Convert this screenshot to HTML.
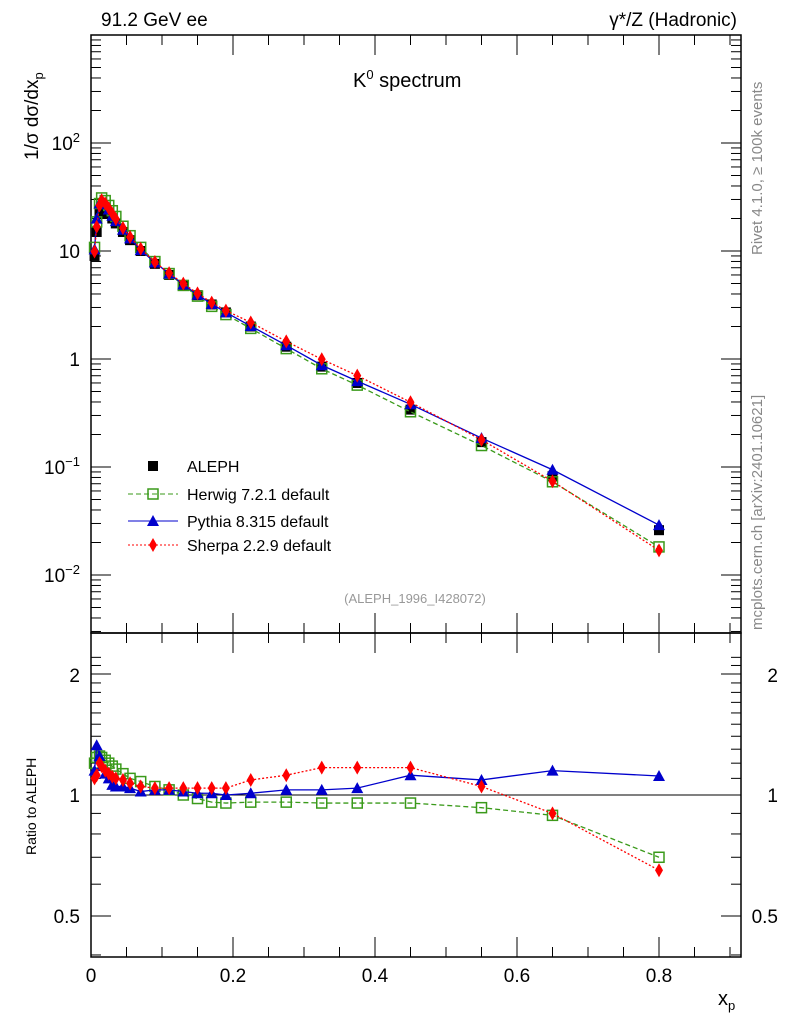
<!DOCTYPE html>
<html><head><meta charset="utf-8"><style>body{margin:0;background:#fff}svg{display:block}text{font-family:"Liberation Sans",sans-serif}</style></head>
<body>
<svg id="s" width="786" height="1024" viewBox="0 0 786 1024">
<rect width="786" height="1024" fill="#fff"/>
<text x="101" y="26" font-size="19">91.2 GeV ee</text>
<text x="737" y="26" font-size="19" text-anchor="end">γ*/Z (Hadronic)</text>
<text x="353" y="87" font-size="20">K<tspan dy="-8" font-size="13">0</tspan><tspan dy="8"> spectrum</tspan></text>
<text x="415" y="603" font-size="13" fill="#999" text-anchor="middle">(ALEPH_1996_I428072)</text>
<text transform="translate(762,255) rotate(-90)" font-size="15" fill="#888">Rivet 4.1.0, ≥ 100k events</text>
<text transform="translate(762,630) rotate(-90)" font-size="15" fill="#888">mcplots.cern.ch [arXiv:2401.10621]</text>
<text transform="translate(38,160) rotate(-90)" font-size="19">1/σ  dσ/dx<tspan dy="5" font-size="13">p</tspan></text>
<text transform="translate(36,855) rotate(-90)" font-size="14">Ratio to ALEPH</text>
<text x="718" y="1005" font-size="20">x<tspan dy="5" font-size="13">p</tspan></text>
<g font-size="19" text-anchor="end">
<text x="80" y="150">10<tspan dy="-8" font-size="13">2</tspan></text>
<text x="80" y="258">10</text>
<text x="80" y="366">1</text>
<text x="80" y="474">10<tspan dy="-8" font-size="13">−1</tspan></text>
<text x="80" y="582">10<tspan dy="-8" font-size="13">−2</tspan></text>
<text x="80" y="682">2</text><text x="80" y="802">1</text><text x="80" y="923">0.5</text>
<text x="778" y="682">2</text><text x="778" y="802">1</text><text x="778" y="923">0.5</text>
</g>
<g font-size="19" text-anchor="middle">
<text x="91" y="982">0</text><text x="233" y="982">0.2</text><text x="375" y="982">0.4</text><text x="517" y="982">0.6</text><text x="659" y="982">0.8</text>
</g>
<g font-size="16">
<text x="187" y="472">ALEPH</text>
<text x="187" y="500">Herwig 7.2.1 default</text>
<text x="187" y="527">Pythia 8.315 default</text>
<text x="187" y="551">Sherpa 2.2.9 default</text>
</g>
<g id="g"></g>
</svg>
<script>
const g=document.getElementById('g');let h='';
const X=x=>91+710*x, Y=v=>359-108*Math.log10(v), R=r=>795-402*Math.log10(r);
h+='<rect x="91" y="35" width="650" height="598" fill="none" stroke="#000" stroke-width="1.5"/>';
h+='<rect x="91" y="633" width="650" height="324" fill="none" stroke="#000" stroke-width="1.5"/>';
h+='<line x1="91" y1="795" x2="741" y2="795" stroke="#000"/>';
for(let d=-3;d<=2;d++)for(let m=1;m<10;m++){const y=Y(m*Math.pow(10,d));if(y<35||y>633)continue;const L=m==1?20:10;
h+=`<line x1="91" y1="${y}" x2="${91+L}" y2="${y}" stroke="#000"/><line x1="741" y1="${y}" x2="${741-L}" y2="${y}" stroke="#000"/>`;}
for(let r=0.4;r<=2.3;r+=0.1){const y=R(r);if(y<633||y>957)continue;const big=[0.5,1,2].some(v=>Math.abs(v-r)<1e-6);const L=big?20:10;
h+=`<line x1="91" y1="${y}" x2="${91+L}" y2="${y}" stroke="#000"/><line x1="741" y1="${y}" x2="${741-L}" y2="${y}" stroke="#000"/>`;}
for(let i=0;i<=18;i++){const x=X(i*0.05);if(x>741)break;const L=i%4==0?20:10;
h+=`<line x1="${x}" y1="633" x2="${x}" y2="${633-L}" stroke="#000"/><line x1="${x}" y1="35" x2="${x}" y2="${35+L}" stroke="#000"/><line x1="${x}" y1="957" x2="${x}" y2="${957-L}" stroke="#000"/><line x1="${x}" y1="633" x2="${x}" y2="${633+L}" stroke="#000"/>`;}
const xs=[0.005,0.008,0.012,0.015,0.02,0.025,0.03,0.035,0.045,0.055,0.07,0.09,0.11,0.13,0.15,0.17,0.19,0.225,0.275,0.325,0.375,0.45,0.55,0.65,0.8];
const A=[9,15,22,25,24,22,20,18,15,12.6,10,7.6,6,4.8,3.9,3.2,2.7,2,1.3,0.85,0.6,0.34,0.17,0.082,0.026];
const H=[1.2,1.24,1.25,1.24,1.22,1.2,1.18,1.16,1.13,1.1,1.08,1.05,1.03,1.0,0.98,0.96,0.955,0.96,0.96,0.955,0.955,0.955,0.93,0.89,0.70];
const P=[1.15,1.33,1.25,1.18,1.13,1.1,1.06,1.05,1.05,1.04,1.02,1.03,1.03,1.02,1.01,1.01,1.0,1.01,1.03,1.03,1.04,1.12,1.09,1.15,1.115];
const S=[1.1,1.12,1.2,1.18,1.15,1.13,1.11,1.1,1.09,1.07,1.05,1.04,1.04,1.04,1.04,1.04,1.04,1.09,1.12,1.17,1.17,1.17,1.05,0.9,0.65];
const sq=(x,y,c,f)=>f?`<rect x="${x-5}" y="${y-5}" width="10" height="10" fill="${c}"/>`:`<rect x="${x-5}" y="${y-5}" width="10" height="10" fill="none" stroke="${c}" stroke-width="1.5"/>`;
const tri=(x,y)=>`<polygon points="${x},${y-6} ${x-6},${y+5} ${x+6},${y+5}" fill="#00c"/>`;
const dia=(x,y)=>`<polygon points="${x},${y-7} ${x-4},${y} ${x},${y+7} ${x+4},${y}" fill="#f00"/>`;
function series(vals,fy,col,dash,mk){let pts=xs.map((x,i)=>[X(x),fy(vals[i],i)]);
h+=`<polyline points="${pts.map(p=>p.join(',')).join(' ')}" fill="none" stroke="${col}" stroke-width="1.3" ${dash?`stroke-dasharray="${dash}"`:''}/>`;
pts.forEach(p=>h+=mk(p[0],p[1]));}
A.forEach((a,i)=>h+=sq(X(xs[i]),Y(a),'#000',1));
series(H,(r,i)=>Y(A[i]*r),'#3a9a1a','5,3',(x,y)=>sq(x,y,'#3a9a1a',0));
series(P,(r,i)=>Y(A[i]*r),'#00c','',tri);
series(S,(r,i)=>Y(A[i]*r),'#f00','2,2',dia);
series(H,r=>R(r),'#3a9a1a','5,3',(x,y)=>sq(x,y,'#3a9a1a',0));
series(P,r=>R(r),'#00c','',tri);
series(S,r=>R(r),'#f00','2,2',dia);
h+=sq(153,466,'#000',1);
h+='<line x1="128" y1="494" x2="178" y2="494" stroke="#3a9a1a" stroke-dasharray="5,3"/>'+sq(153,494,'#3a9a1a',0);
h+='<line x1="128" y1="521" x2="178" y2="521" stroke="#00c"/>'+tri(153,521);
h+='<line x1="128" y1="545" x2="178" y2="545" stroke="#f00" stroke-dasharray="2,2"/>'+dia(153,545);
g.innerHTML=h;
</script>
</body></html>
